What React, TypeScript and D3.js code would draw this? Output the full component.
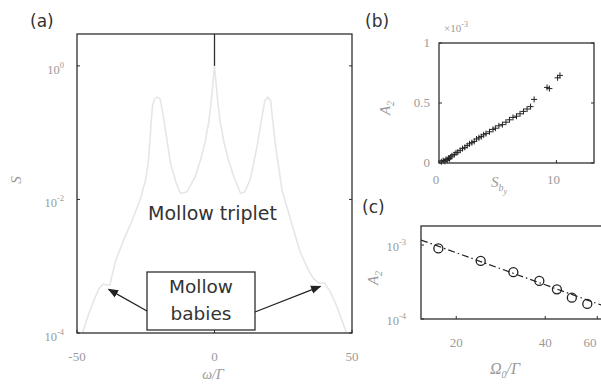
import React from 'react';
import * as d3 from 'd3';

// (a) emission spectrum S(omega)
const spectrumOmega = [-50, -48, -46, -44, -42, -40.5, -39, -38, -36, -33, -30, -27, -25, -24, -23, -22.5, -21.8, -20.8, -19.8, -19, -17.8, -16, -14, -12.4, -10, -7, -5, -3.5, -2, -1, 0, 1, 2, 3.5, 5, 7, 9.5, 11, 13, 15.5, 17, 18.3, 19.4, 20.4, 21.2, 22.2, 24.6, 28, 31, 34, 36, 38, 40, 42, 44, 46, 48, 50];
const spectrumS = [6e-5, 1e-4, 1.8e-4, 3e-4, 4.6e-4, 5.4e-4, 5.2e-4, 5.3e-4, 1.2e-3, 2.5e-3, 4.8e-3, 1e-2, 2e-2, 3.8e-2, 0.15, 0.26, 0.32, 0.34, 0.32, 0.22, 0.107, 0.035, 0.018, 0.0123, 0.013, 0.022, 0.04, 0.07, 0.15, 0.35, 1.0, 0.35, 0.15, 0.07, 0.04, 0.022, 0.0123, 0.013, 0.02, 0.063, 0.15, 0.3, 0.34, 0.3, 0.15, 0.063, 0.0135, 4.5e-3, 1.7e-3, 9e-4, 6.5e-4, 5.6e-4, 5.6e-4, 4.2e-4, 2.8e-4, 1.7e-4, 1e-4, 6e-5];
const coherentPeak = [0];
const aTicksX = [-50, 0, 50];
const aTicksY = [1e-4, 1e-2, 1];

// (b) A_2 versus S_b (units of 1e-3)
const scatterS = [0.2, 0.35, 0.5, 0.6, 0.7, 0.8, 0.9, 1.0, 1.1, 1.3, 1.45, 1.6, 1.8, 2.0, 2.2, 2.4, 2.6, 2.8, 3.0, 3.2, 3.4, 3.6, 3.8, 4.0, 4.3, 4.6, 4.8, 5.1, 5.4, 5.7, 6.0, 6.3, 6.6, 6.9, 7.2, 7.5, 7.8, 8.1, 9.2, 9.4, 10.1, 10.3];
const scatterA = [0.01, 0.02, 0.015, 0.03, 0.025, 0.04, 0.035, 0.05, 0.06, 0.07, 0.085, 0.09, 0.105, 0.12, 0.13, 0.145, 0.16, 0.17, 0.18, 0.2, 0.21, 0.22, 0.235, 0.245, 0.26, 0.28, 0.29, 0.31, 0.32, 0.34, 0.36, 0.38, 0.39, 0.41, 0.43, 0.45, 0.47, 0.53, 0.63, 0.62, 0.71, 0.73];
const bTicksX = [0, 10];
const bTicksY = [0, 0.5, 1];

// (c) A_2 versus Omega_0
const omegaC = [17.4, 24.2, 31.2, 38.2, 43.8, 49.2, 55.5];
const ampC = [9.0e-4, 6.1e-4, 4.3e-4, 3.27e-4, 2.52e-4, 1.94e-4, 1.6e-4];
const fitOmega = [15.2, 63.7];
const fitA = [1.17e-3, 1.48e-4];
const cTicksX = [20, 40, 60];
const cTicksY = [1e-4, 1e-3];

const frame = '#2e2e2e';
const tickGray = '#9a9a9a';
const serif = '"Liberation Serif", "DejaVu Serif", serif';
const sans = '"DejaVu Sans", "Noto Sans", sans-serif';

const Pow10 = ({ x, y, e }: { x: number; y: number; e: number }) => (
  <text x={x} y={y} textAnchor="end" fontFamily={serif} fontSize={12.5} fill={tickGray}>
    10<tspan dy={-6} fontSize={8.5}>{e}</tspan>
  </text>
);

export default function App() {
  // panel (a)
  const ax = d3.scaleLinear().domain([-50, 50]).range([77, 352]);
  const ay = d3.scaleLog().domain([1e-4, 3.0]).range([333, 34]);
  const spectrum = d3.line<number>()
    .x((_, i) => ax(spectrumOmega[i]))
    .y((d) => ay(d))(spectrumS) as string;

  // panel (b)
  const bx = d3.scaleLinear().domain([0, 13.2]).range([439, 594]);
  const by = d3.scaleLinear().domain([0, 1]).range([163, 43]);

  // panel (c)
  const cx = d3.scaleLog().domain([15.2, 63.7]).range([421, 605]);
  const cy = d3.scaleLog().domain([1e-4, 1.81e-3]).range([319, 226]);
  const fit = d3.line<number>()
    .x((_, i) => cx(fitOmega[i]))
    .y((d) => cy(d))(fitA) as string;

  const tl = 3;

  return (
    <svg width={601} height={385} style={{ position: 'absolute', left: 0, top: 0, background: '#fff' }}>
      <defs>
        <clipPath id="clipA"><rect x={77} y={34} width={275} height={299} /></clipPath>
        <clipPath id="clipC"><rect x={421} y={226} width={184} height={93} /></clipPath>
        <marker id="arr" viewBox="0 0 10 10" refX={9} refY={5} markerWidth={8} markerHeight={8} orient="auto">
          <path d="M0,1 L10,5 L0,9 z" fill="#222" />
        </marker>
      </defs>

      {/* (a) */}
      <g>
        <path d={spectrum} fill="none" stroke="#e6e6e6" strokeWidth={1.6} clipPath="url(#clipA)" />
        {coherentPeak.map((w) => (
          <line key={w} x1={ax(w)} x2={ax(w)} y1={ay(1)} y2={ay(3.0)} stroke={frame} strokeWidth={1.3} />
        ))}
        <rect x={77} y={34} width={275} height={299} fill="none" stroke={frame} strokeWidth={1.3} />
        {aTicksY.map((t) => (
          <g key={t}>
            <line x1={77} x2={77 + tl} y1={ay(t)} y2={ay(t)} stroke={frame} />
            <line x1={352} x2={352 - tl} y1={ay(t)} y2={ay(t)} stroke={frame} />
            <Pow10 x={64} y={ay(t) + 8} e={Math.round(Math.log10(t))} />
          </g>
        ))}
        {aTicksX.map((t) => (
          <g key={t}>
            <line x1={ax(t)} x2={ax(t)} y1={333} y2={333 - tl} stroke={frame} />
            <text x={ax(t)} y={361} textAnchor="middle" fontFamily={serif} fontSize={13} fill={tickGray}>{t}</text>
          </g>
        ))}
        <text x={30} y={27} fontFamily={sans} fontSize={17} fill="#333">(a)</text>
        <text transform="translate(21,180) rotate(-90)" textAnchor="middle" fontFamily={serif} fontStyle="italic" fontSize={15} fill={tickGray}>S</text>
        <text x={213} y={379} textAnchor="middle" fontFamily={serif} fontStyle="italic" fontSize={14} fill={tickGray}>ω/Γ</text>
        <text x={212.5} y={220} textAnchor="middle" fontFamily={sans} fontSize={19} fill="#333">Mollow triplet</text>
        <rect x={147} y={272} width={108} height={58} fill="#fff" stroke={frame} strokeWidth={1.3} />
        <text x={201} y={293} textAnchor="middle" fontFamily={sans} fontSize={18.5} fill="#333">Mollow</text>
        <text x={201} y={320} textAnchor="middle" fontFamily={sans} fontSize={18.5} fill="#333">babies</text>
        <line x1={147} y1={311} x2={ax(-38.5)} y2={ay(4.5e-4)} stroke="#222" strokeWidth={1.3} markerEnd="url(#arr)" />
        <line x1={255} y1={312} x2={ax(38.5)} y2={ay(5e-4)} stroke="#222" strokeWidth={1.3} markerEnd="url(#arr)" />
      </g>

      {/* (b) */}
      <g>
        {scatterS.map((s, i) => {
          const px = bx(s);
          const py = by(scatterA[i]);
          return (
            <g key={i} stroke="#222" strokeWidth={1}>
              <line x1={px - 3} x2={px + 3} y1={py} y2={py} />
              <line x1={px} x2={px} y1={py - 3} y2={py + 3} />
            </g>
          );
        })}
        <rect x={439} y={43} width={155} height={120} fill="none" stroke={frame} strokeWidth={1.3} />
        {bTicksY.map((t) => (
          <g key={t}>
            <line x1={439} x2={439 + tl} y1={by(t)} y2={by(t)} stroke={frame} />
            <line x1={594} x2={594 - tl} y1={by(t)} y2={by(t)} stroke={frame} />
            <text x={430} y={by(t) + 4} textAnchor="end" fontFamily={serif} fontSize={13} fill={tickGray}>{t}</text>
          </g>
        ))}
        {bTicksX.map((t) => (
          <g key={t}>
            <line x1={bx(t)} x2={bx(t)} y1={163} y2={163 - tl} stroke={frame} />
            <text x={bx(t) - 3} y={184} textAnchor="middle" fontFamily={serif} fontSize={13} fill={tickGray}>{t}</text>
          </g>
        ))}
        <text x={444} y={32} fontFamily={serif} fontSize={11} fill={tickGray}>
          ×10<tspan dy={-5} fontSize={8}>-3</tspan>
        </text>
        <text x={491} y={187} fontFamily={serif} fontStyle="italic" fontSize={15} fill={tickGray}>
          S<tspan dy={4} fontSize={10}>b</tspan><tspan dy={3} fontSize={8}>y</tspan>
        </text>
        <text transform="translate(390,108) rotate(-90)" textAnchor="middle" fontFamily={serif} fontStyle="italic" fontSize={15} fill={tickGray}>
          A<tspan dy={4} fontSize={10}>2</tspan>
        </text>
        <text x={365} y={27} fontFamily={sans} fontSize={17} fill="#333">(b)</text>
      </g>

      {/* (c) */}
      <g>
        <path d={fit} fill="none" stroke="#222" strokeWidth={1.2} strokeDasharray="7,3,1.5,3" clipPath="url(#clipC)" />
        {omegaC.map((w, i) => (
          <circle key={w} cx={cx(w)} cy={cy(ampC[i])} r={4.5} fill="none" stroke="#222" strokeWidth={1.3} />
        ))}
        <rect x={421} y={226} width={184} height={93} fill="none" stroke={frame} strokeWidth={1.3} />
        {cTicksY.map((t) => (
          <g key={t}>
            <line x1={421} x2={421 + tl} y1={cy(t)} y2={cy(t)} stroke={frame} />
            <Pow10 x={406} y={cy(t) + 6} e={Math.round(Math.log10(t))} />
          </g>
        ))}
        {cTicksX.map((t) => (
          <g key={t}>
            <line x1={cx(t)} x2={cx(t)} y1={319} y2={319 - tl} stroke={frame} />
            <text x={Math.min(cx(t), 590)} y={347} textAnchor="middle" fontFamily={serif} fontSize={13} fill={tickGray}>{t}</text>
          </g>
        ))}
        <text x={490} y={374} fontFamily={serif} fontStyle="italic" fontSize={16} fill={tickGray}>
          Ω<tspan dy={4} fontSize={10}>0</tspan><tspan dy={-4}>/Γ</tspan>
        </text>
        <text transform="translate(378,278) rotate(-90)" textAnchor="middle" fontFamily={serif} fontStyle="italic" fontSize={15} fill={tickGray}>
          A<tspan dy={4} fontSize={10}>2</tspan>
        </text>
        <text x={362} y={213} fontFamily={sans} fontSize={17} fill="#333">(c)</text>
      </g>
    </svg>
  );
}
